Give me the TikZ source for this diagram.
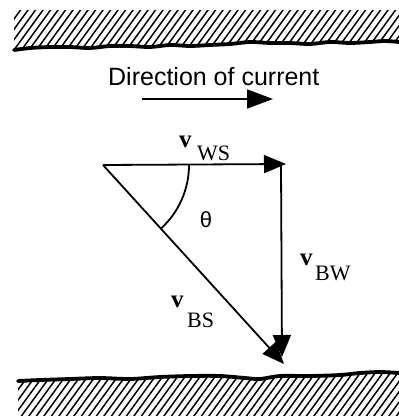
\documentclass[tikz,border=0pt]{standalone}
\usepackage{fontspec}
\setmainfont{Liberation Serif}
\newfontfamily\sansf{Liberation Sans}
\usetikzlibrary{arrows.meta}
\tikzset{
  vec/.style={line width=1.8pt,-{Triangle[length=22pt,width=18pt]}},
  bank/.style={line width=3.8pt,line cap=round,line join=round},
  hatch/.style={line width=1.5pt},
  lbl/.style={inner sep=0pt,font=\fontsize{22}{26}\selectfont},
  vlbl/.style={inner sep=0pt,font=\fontsize{25}{28}\selectfont\bfseries},
}
\begin{document}
\begin{tikzpicture}[x=1pt,y=-1pt]
\useasboundingbox (0,0) rectangle (399,416);
% top bank
\begin{scope}
\clip (14,10) -- (399,10) -- (399,42) -- (385,41) -- (370,42) -- (350,43) -- (330,42) -- (310,44) -- (290,43) -- (270,43) -- (250,42) -- (230,44) -- (210,45) -- (190,46) -- (170,45) -- (150,47) -- (130,46) -- (110,46) -- (90,48) -- (70,47) -- (50,47) -- (30,48) -- (14,50) -- cycle;
\foreach \i in {-40,-32.5,...,420} \draw[hatch] (\i,52) -- ++(32,-44);
\end{scope}
\draw[bank] plot[smooth] coordinates {(14,50) (30,48) (50,47) (70,47) (90,48) (110,46) (130,46) (150,47) (170,45) (190,46) (210,45) (230,44) (250,42) (270,43) (290,43) (310,44) (330,42) (350,43) (370,42) (385,41) (399,42)};
% bottom bank
\begin{scope}
\clip (18,381) -- (40,380) -- (70,379) -- (100,378) -- (130,379) -- (160,377) -- (190,376) -- (220,376) -- (245,378) -- (260,379) -- (280,376) -- (310,376) -- (340,375) -- (360,373) -- (380,372) -- (399,373) -- (399,416) -- (18,416) -- cycle;
\foreach \i in {-40,-32.5,...,420} \draw[hatch] (\i,418) -- ++(32,-44);
\end{scope}
\draw[bank] plot[smooth] coordinates {(18,381) (40,380) (70,379) (100,378) (130,379) (160,377) (190,376) (220,376) (245,378) (260,379) (280,376) (310,376) (340,375) (360,373) (380,372) (399,373)};
% current
\node[anchor=base west,inner sep=0pt,font=\sansf\fontsize{25}{30}\selectfont] (cur) at (108,85) {Direction of current};
\coordinate (c1) at (142,99);
\coordinate (c2) at (273,99);
\draw[line width=1.8pt,-{Triangle[length=26pt,width=19pt]}] (c1) -- (c2);
% vectors
\coordinate (A) at (103,165);
\coordinate (B) at (286,164);
\coordinate (Bt) at (281,164);
\coordinate (Cv) at (282,357);
\coordinate (Cd) at (284,364);
\draw[vec] (A) -- (B);
\draw[vec] (Bt) -- (Cv);
\draw[vec] (A) -- (Cd);
\draw[line width=1.8pt] (189,165) arc[start angle=0,end angle=47.4,radius=86];
\node[inner sep=0pt,font=\sansf\fontsize{22}{24}\selectfont] (th) at (206,220) {θ};
% labels
\node[vlbl,anchor=base west] (vws) at (179,147) {v};
\node[lbl,anchor=base west] (sws) at (197,160) {WS};
\node[vlbl,anchor=base west] (vbw) at (300,265) {v};
\node[lbl,anchor=base west] (sbw) at (315,280) {BW};
\node[vlbl,anchor=base west] (vbs) at (171,307) {v};
\node[lbl,anchor=base west] (sbs) at (187,327) {BS};
\end{tikzpicture}
\end{document}
